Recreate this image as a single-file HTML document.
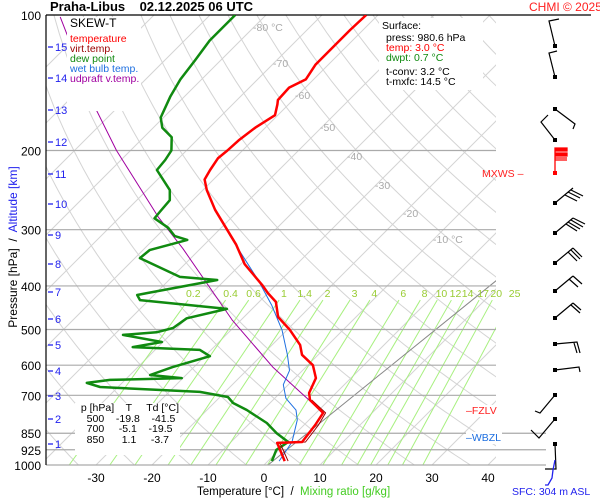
<!DOCTYPE html>
<html><head><meta charset="utf-8"><style>
body{margin:0;background:#fff}
svg{display:block;font-family:"Liberation Sans",sans-serif}
</style></head><body>
<svg id="c" width="600" height="500" viewBox="0 0 600 500">
<defs><clipPath id="pc"><rect x="46" y="15" width="450" height="450"/></clipPath></defs>
<g id="bg" clip-path="url(#pc)"></g>
<g id="hl"></g>
<g id="series" clip-path="url(#pc)"></g>
<g id="lab"></g>
</svg>
<script>
// ---- data ----
const tempP=[980,893,889,815,766,717,692,641,600,569,541,501,469,434,415,398,358,324,300,271,245,232,221,208,200,190,178,167,158,154.5,145,139,129,120,108,100];
const tempT=[3.0,-1.6,2.7,2.0,1.25,-3.4,-4.8,-6.25,-9.1,-12.9,-15,-19.5,-23.9,-27,-30,-32.5,-39.3,-44.3,-48.6,-54.3,-59.3,-61.6,-62.3,-63,-62.7,-62.5,-61.8,-60.5,-62,-62.7,-62.9,-61.4,-62.3,-62.3,-62.3,-62.1];
const virtP=[980,893,889,815,766,717];
const virtT=[3.6,-1.1,3.3,2.6,1.7,-3.1];
const dewP=[980,925.6,888.8,850,806.5,754.6,728,706,688,671,657,647,641,631,606,573,555,547,533,514,507,496,472,450,430,419,415,388,382,347,333,316,310,297,283,274,258,245,221,210,200,187,178,169,152,139,126,114,100];
const dewT=[0.7,-0.5,0.2,-3.4,-7.0,-12.9,-16.6,-18.6,-24.5,-43.2,-46.3,-42.7,-30.2,-36.4,-33.8,-29.1,-32,-44.5,-40.2,-48.4,-42.9,-40.7,-40,-34.5,-51.6,-53,-51.6,-41.4,-48.6,-59.1,-58.8,-53.9,-56.8,-59.5,-63.6,-63.8,-64.1,-65.9,-71.8,-72.1,-72.7,-75,-78.4,-80.5,-82.5,-83.8,-84.6,-85.5,-85.5];
const wbP=[980,889,794,755,711,663,617,569,501,442,388,350,309,300];
const wbT=[2.0,0.9,-2.1,-4.1,-8.0,-10.9,-12.3,-15.5,-20.9,-27.1,-34.1,-40,-47.1,-48.6];
const parP=[766,606,476,330,281,200,163,101];
const parT=[1.25,-15.9,-31.6,-53.2,-63.2,-82.5,-93.2,-116.4];
const pLevels=[100,200,300,400,500,600,700,850,925,1000];
const tTicks=[-30,-20,-10,0,10,20,30,40];
const mixW=[0.2,0.4,0.6,1,1.4,2,3,4,6,8,10,12,14,17,20,25];
const mixLabels=["0.2","0.4","0.6","1","1.4","2","3","4","6","8","10","12","14","17","20","25"];
const kmVals=[1,2,3,4,5,6,7,8,9,10,11,12,13,14,15];
const kmY=[444,419,396,371,345,319,292,264,235,204,174,142,110,78,47];
// ---- scales ----
const yOf=p=>15+450*Math.log10(p/100);
const xOf=(T,p)=>264+5.6*T+(465-yOf(p));
const NS="http://www.w3.org/2000/svg";
function mk(tag,attrs,parent){const e=document.createElementNS(NS,tag);for(const k in attrs)e.setAttribute(k,attrs[k]);parent.appendChild(e);return e;}
const bg=document.getElementById('bg'),hl=document.getElementById('hl'),ser=document.getElementById('series'),lab=document.getElementById('lab');
for(let T=-140;T<=40;T+=10){const l=mk('line',{x1:xOf(T,1000),y1:yOf(1000),x2:xOf(T,100),y2:yOf(100),stroke:'#d4d4d4','stroke-width':1},bg);

}
for(let th=230;th<=480;th+=10){let pts=[];for(let p=1000;p>=100;p-=10){const T=th*Math.pow(p/1000,0.286)-273.15;pts.push(xOf(T,p).toFixed(1)+','+yOf(p).toFixed(1));}
const l=mk('polyline',{points:pts.join(' '),fill:'none',stroke:'#d4d4d4','stroke-width':1},bg);

}
function tdW(w,p){const e=w*p/(622+w);const a=Math.log(e/6.112);return 243.5*a/(17.67-a);}
mixW.forEach((w,i)=>{const l=mk('line',{x1:xOf(tdW(w,1000),1000),y1:yOf(1000),x2:xOf(tdW(w,430),430),y2:yOf(430),stroke:'#a8f080','stroke-width':1},bg);


const t=mk('text',{x:xOf(tdW(w,415),415),y:297,'font-size':10.5,fill:'#99cc33','text-anchor':'middle'},lab);t.textContent=mixLabels[i];

});
mk('line',{x1:268,y1:465,x2:497,y2:280,stroke:'#888','stroke-width':1},bg);
pLevels.forEach(p=>{const y=yOf(p);
const l=mk('line',{x1:46,y1:y,x2:p==100?591:(p>=850?546:496),y2:y,stroke:p==100?'#000':'#aaa','stroke-width':1.2},hl);


const t=mk('text',{x:41,y:y+5,'font-size':12,'text-anchor':'end',fill:'#000'},lab);t.textContent=p;

});
mk('line',{x1:46,y1:15,x2:46,y2:465,stroke:'#000','stroke-width':1.2},hl);
tTicks.forEach(T=>{const t=mk('text',{x:264+5.6*T,y:482,'font-size':12,'text-anchor':'middle'},lab);t.textContent=T;

});
kmVals.forEach((k,i)=>{mk('line',{x1:48,y1:kmY[i],x2:53,y2:kmY[i],stroke:'#2222ee','stroke-width':1.3},lab);
const t=mk('text',{x:55,y:kmY[i]+4,'font-size':11,fill:'#2222ee'},lab);t.textContent=k;

});
[['-80 °C',253,31],['-70',273,67],['-60',295,99],['-50',320,131],['-40',347,160],['-30',375,189],['-20',403,217],['-10 °C',433,243]].forEach(a=>{const t=mk('text',{x:a[1],y:a[2],'font-size':10.5,fill:'#aaa'},lab);t.textContent=a[0];});
function line(P,T,color,w,name){const pts=P.map((p,i)=>xOf(T[i],p).toFixed(1)+','+yOf(p).toFixed(1)).join(' ');
const l=mk('polyline',{points:pts,fill:'none',stroke:color,'stroke-width':w,'stroke-linejoin':'round'},ser);

}
line(parP,parT,'#a000a0',1,'updraft-line');
line(wbP,wbT,'#1e6fe0',1,'wet-bulb-line');
line(dewP,dewT,'#108a10',2.5,'dewpoint-line');
line(virtP,virtT,'#990000',1,'virtual-temp-line');
line(tempP,tempT,'#ff0000',2.5,'temperature-line');
const barbs=[[46,'M0 0L-6 -25L4 -27'],[77,'M0 0L-6 -24L2 -26'],[109,'M0 0L20 15L18 20'],[140,'M0 0L-14 -18L-7 -25'],[203,'M0 0L18 -15M10 -8L22 -2M13 -11L25 -5M16 -13L28 -7'],[233,'M0 0L18 -15M11 -9L22 -2M13 -11L25 -4M16 -13L28 -6M18 -15L30 -9'],[263,'M0 0L18 -15M13 -11L22 -2M16 -13L25 -4M18 -15L27 -6'],[291,'M0 0L18 -15M14 -12L23 -4M18 -15L27 -7'],[318,'M0 0L18 -15M16 -13L25 -5M18 -15L26 -8'],[344,'M0 0L22 -2L25 9M19 -1L22 9'],[370,'M0 0L24 -3L25 2'],[395,'M0 0L-15 18L-20 16'],[419,'M0 0L-16 19L-24 11'],[444,'M0 0L1 25L-10 25']];
barbs.forEach(b=>{const g=mk('g',{transform:'translate(555 '+b[0]+')'},lab);


mk('path',{d:b[1],fill:'none',stroke:'#000','stroke-width':1.2},g);mk('rect',{x:-2,y:-2,width:4,height:4,fill:'#000'},g);});
const rb=mk('g',{transform:'translate(555 173)'},lab);


mk('path',{d:'M0 0L0 -25L12 -25L12 -22L0 -22M0 -20L12 -20L12 -17L0 -17M0 -15L12 -15M0 -13L12 -13',fill:'#ff0000',stroke:'#ff0000','stroke-width':1.3},rb);
mk('rect',{x:-2,y:-2,width:4,height:4,fill:'#ff0000'},rb);
mk('path',{d:'M555 460L553 470L552 478L548 485L545 485',fill:'none',stroke:'#2222ee','stroke-width':1.3},lab);
</script>
<div style="position:absolute;left:0;top:0;width:600px;height:500px;font-family:'Liberation Sans',sans-serif;pointer-events:none;white-space:nowrap">
<div style="position:absolute;left:50px;top:-1px;font-size:13px;font-weight:bold;white-space:pre">Praha-Libus    02.12.2025 06 UTC</div>
<div style="position:absolute;left:529px;top:0px;font-size:12px;color:#ff2020;white-space:nowrap">CHMI © 2025</div>
<div style="position:absolute;left:67px;top:17px;width:74px;height:94px;background:#fff;font-size:10.5px;line-height:10px">
<div style="font-size:12px;color:#000;margin:1px 0 6px 3px">SKEW-T</div>
<div style="color:#ff0000;margin-left:3px">temperature</div>
<div style="color:#990000;margin-left:3px">virt.temp.</div>
<div style="color:#108a10;margin-left:3px">dew point</div>
<div style="color:#1e6fe0;margin-left:3px">wet bulb temp.</div>
<div style="color:#a000a0;margin-left:3px">udpraft v.temp.</div></div>
<div style="position:absolute;left:379px;top:18px;width:104px;height:72px;background:#fff;font-size:10.5px;line-height:10px">
<div style="margin:3px 0 2px 3px">Surface:</div>
<div style="margin-left:7px">press: 980.6 hPa</div>
<div style="margin-left:7px;color:#ff0000">temp: 3.0 °C</div>
<div style="margin-left:7px;color:#108a10">dwpt: 0.7 °C</div>
<div style="margin:4px 0 0 7px">t-conv: 3.2 °C</div>
<div style="margin-left:7px">t-mxfc: 14.5 °C</div></div>
<div style="position:absolute;left:75px;top:403px;width:105px;height:52px;background:#fff;font-size:10.5px;line-height:10.5px;white-space:pre">  p [hPa]    T     Td [°C]
    500    -19.8    -41.5
    700     -5.1    -19.5
    850      1.1     -3.7</div>
<div style="position:absolute;left:482px;top:168px;font-size:10.5px;color:#ff2020">MXWS –</div>
<div style="position:absolute;left:466px;top:405px;font-size:10.5px;color:#ff2020;background:#fff;width:40px">–FZLV</div>
<div style="position:absolute;left:466px;top:432px;font-size:10.5px;color:#1e6fe0;background:#fff;width:36px">–WBZL</div>
<div style="position:absolute;left:512px;top:486px;font-size:10.5px;color:#2222ee">SFC: 304 m ASL</div>
<div style="position:absolute;left:197px;top:486px;font-size:11.5px;white-space:pre">Temperature [°C]  /  <span style="color:#44cc22">Mixing ratio [g/kg]</span></div>
<div style="position:absolute;left:-92px;top:240px;width:210px;text-align:center;transform:rotate(-90deg);font-size:12px;white-space:pre">Pressure [hPa]  /  <span style="color:#2222ee">Altitude [km]</span></div>
</div>
</body></html>
